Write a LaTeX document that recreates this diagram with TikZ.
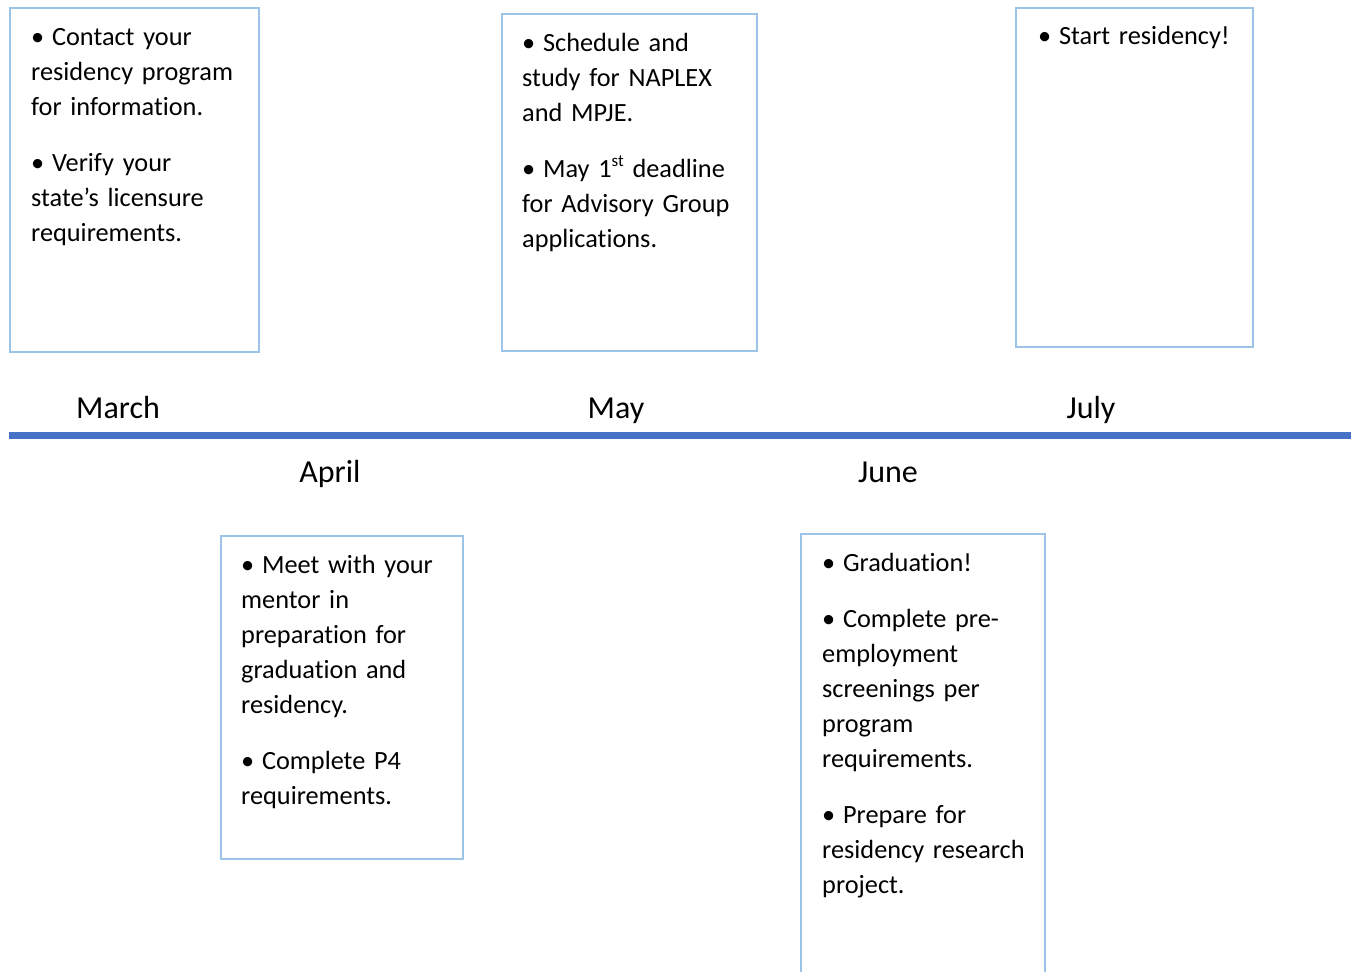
\documentclass[tikz,border=0pt]{standalone}
\usepackage{fontspec}
\setmainfont{Carlito}[Ligatures=NoCommon]
\definecolor{boxblue}{HTML}{9DC3E6}
\definecolor{lineblue}{HTML}{4472C4}
\newcommand{\supst}{\raisebox{11pt}{\fontsize{17}{17}\selectfont st}}
\begin{document}
\begin{tikzpicture}[x=1pt,y=-1pt,
  eventbox/.style={draw=boxblue,line width=2pt,rectangle,inner sep=0pt,fill=white},
  boxtext/.style={anchor=north west,inner sep=0pt,align=left,text width=240pt,
    font=\fontsize{26.3}{35}\selectfont},
  monthlabel/.style={anchor=base,inner sep=0pt,font=\fontsize{32}{38}\selectfont}]
\useasboundingbox (0,0) rectangle (1356,972);
\fill[white] (0,0) rectangle (1356,972);
% boxes
\node[eventbox,minimum width=249pt,minimum height=344pt] (marchbox) at (134.5,180) {};
\node[eventbox,minimum width=255pt,minimum height=337pt] (maybox) at (629.5,182.5) {};
\node[eventbox,minimum width=237pt,minimum height=339pt] (julybox) at (1134.5,177.5) {};
\node[eventbox,minimum width=242pt,minimum height=323pt] (aprilbox) at (342,697.5) {};
\coordinate (junebl) at (801,972);
\coordinate (junetl) at (801,534);
\coordinate (junetr) at (1045,534);
\coordinate (junebr) at (1045,972);
\draw[draw=boxblue,line width=2pt] (junebl) -- (junetl) -- (junetr) -- (junebr);
% texts
\node[boxtext] (marchtext) at (31,20.5) {\strut•\kern-1pt{} Contact your\\residency program\\for information.\\[21pt]•\kern-1pt{} Verify your\\state’s licensure\\requirements.};
\node[boxtext] (maytext) at (522,26.5) {\strut•\kern-1pt{} Schedule and\\study for NAPLEX\\and MPJE.\\[21pt]•\kern-1pt{} May 1\supst{} deadline\\for Advisory Group\\applications.};
\node[boxtext] (julytext) at (1038,19.5) {\strut•\kern-1pt{} Start residency!};
\node[boxtext] (apriltext) at (241,548.5) {\strut•\kern-1pt{} Meet with your\\mentor in\\preparation for\\graduation and\\residency.\\[21pt]•\kern-1pt{} Complete P4\\requirements.};
\node[boxtext] (junetext) at (822,546.5) {\strut•\kern-1pt{} Graduation!\\[21pt]•\kern-1pt{} Complete pre-\\employment\\screenings per\\program\\requirements.\\[21pt]•\kern-1pt{} Prepare for\\residency research\\project.};
% timeline
\coordinate (tlstart) at (9,435.5);
\coordinate (tlend) at (1351,435.5);
\draw[lineblue,line width=7pt] (tlstart) -- (tlend);
% month labels
\node[monthlabel] (march) at (118,418) {March};
\node[monthlabel] (may) at (616,418) {May};
\node[monthlabel] (july) at (1091,418) {July};
\node[monthlabel] (april) at (330,482) {April};
\node[monthlabel] (june) at (888,482) {June};
\end{tikzpicture}
\end{document}
